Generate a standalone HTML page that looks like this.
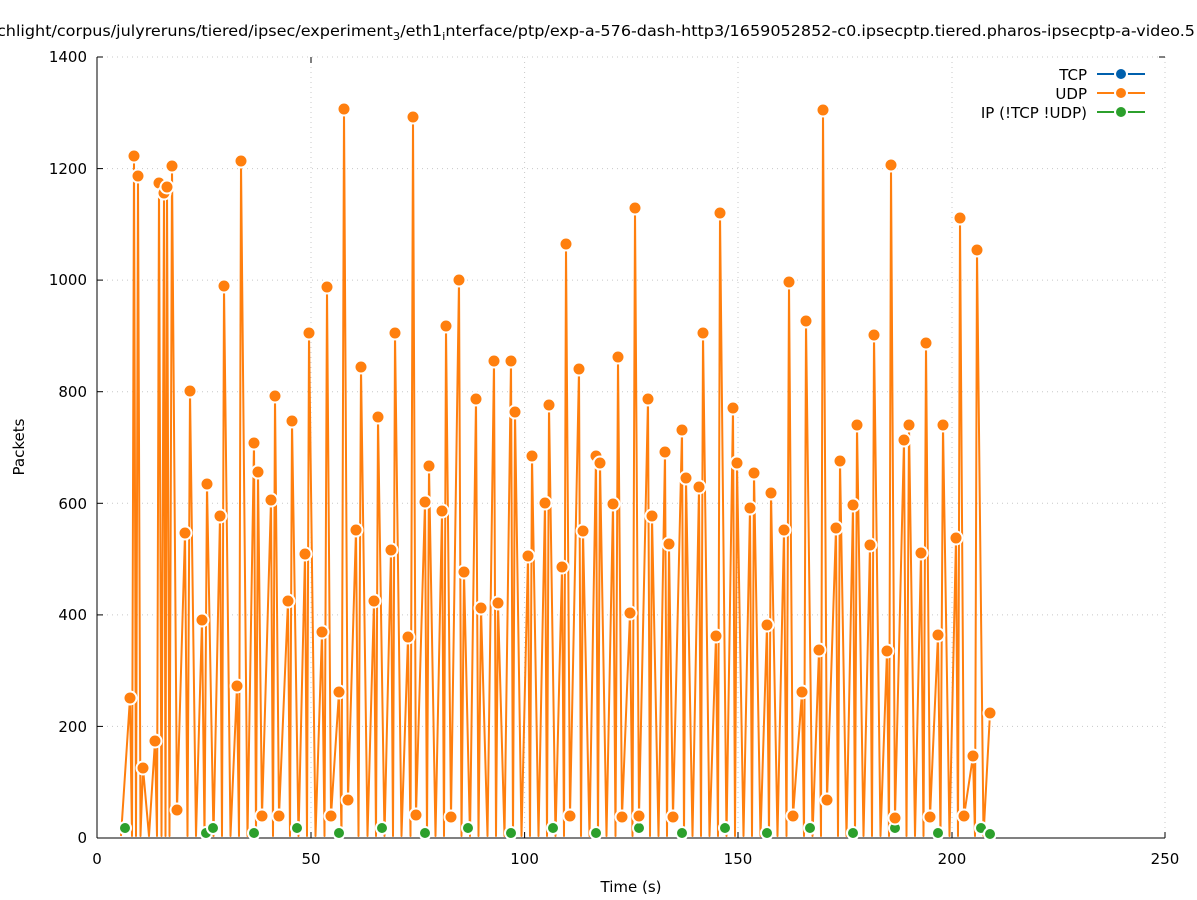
<!DOCTYPE html>
<html><head><meta charset="utf-8"><style>
html,body{margin:0;padding:0;background:#fff;}
svg{display:block;font-family:"DejaVu Sans","Liberation Sans",sans-serif;}
</style></head><body>
<svg id="s" width="1197" height="900" viewBox="0 0 1197 900" xmlns="http://www.w3.org/2000/svg">
<rect width="1197" height="900" fill="#fff"/>
<text x="-3" y="36" font-size="15" textLength="1198" lengthAdjust="spacingAndGlyphs">chlight/corpus/julyreruns/tiered/ipsec/experiment<tspan font-size="11" dy="4">3</tspan><tspan dy="-4">/eth1</tspan><tspan font-size="11" dy="4">i</tspan><tspan dy="-4">nterface/ptp/exp-a-576-dash-http3/1659052852-c0.ipsecptp.tiered.pharos-ipsecptp-a-video.5</tspan></text>
<g stroke="#c8c8c8" stroke-dasharray="1,4" stroke-width="1">
<line x1="97" x2="1165" y1="726.4" y2="726.4"/><line x1="97" x2="1165" y1="614.9" y2="614.9"/><line x1="97" x2="1165" y1="503.3" y2="503.3"/><line x1="97" x2="1165" y1="391.7" y2="391.7"/><line x1="97" x2="1165" y1="280.1" y2="280.1"/><line x1="97" x2="1165" y1="168.6" y2="168.6"/><line x1="97" x2="1165" y1="57" y2="57"/>
<line x1="311" x2="311" y1="57" y2="838"/><line x1="524.6" x2="524.6" y1="57" y2="838"/><line x1="738" x2="738" y1="57" y2="838"/><line x1="952" x2="952" y1="57" y2="838"/><line x1="1165" x2="1165" y1="57" y2="838"/>
</g>
<g stroke="#000" stroke-width="1">
<line x1="97" y1="57" x2="97" y2="838"/><line x1="97" y1="838" x2="1165" y2="838"/>
<line x1="97" y1="57" x2="103" y2="57"/><line x1="97" y1="168.6" x2="103" y2="168.6"/><line x1="97" y1="280.1" x2="103" y2="280.1"/><line x1="97" y1="391.7" x2="103" y2="391.7"/><line x1="97" y1="503.3" x2="103" y2="503.3"/><line x1="97" y1="614.9" x2="103" y2="614.9"/><line x1="97" y1="726.4" x2="103" y2="726.4"/>
<line x1="1165" y1="57" x2="1159" y2="57"/><line x1="311" y1="57" x2="311" y2="63"/><line x1="311" y1="838" x2="311" y2="832"/><line x1="524.6" y1="838" x2="524.6" y2="832"/><line x1="738" y1="838" x2="738" y2="832"/><line x1="952" y1="838" x2="952" y2="832"/><line x1="1165" y1="838" x2="1165" y2="832"/>
</g>
<g font-size="15" text-anchor="end">
<text x="87" y="843">0</text><text x="87" y="732">200</text><text x="87" y="620">400</text><text x="87" y="509">600</text><text x="87" y="397">800</text><text x="87" y="285">1000</text><text x="87" y="174">1200</text><text x="87" y="62">1400</text>
</g>
<g font-size="15" text-anchor="middle">
<text x="97" y="864">0</text><text x="311" y="864">50</text><text x="524.6" y="864">100</text><text x="738" y="864">150</text><text x="952" y="864">200</text><text x="1165" y="864">250</text>
<text x="631" y="892">Time (s)</text>
<text transform="translate(24,447) rotate(-90)">Packets</text>
</g>
<g id="plot"></g>
<g font-size="15" text-anchor="end">
<text x="1087" y="80">TCP</text><text x="1087" y="99">UDP</text><text x="1087" y="118">IP (!TCP  !UDP)</text>
<line x1="1097" x2="1145" y1="74" y2="74" stroke="#0060ad" stroke-width="2"/><circle cx="1121" cy="74" r="6" fill="#0060ad" stroke="#fff" stroke-width="2"/>
<line x1="1097" x2="1145" y1="93" y2="93" stroke="#ff7f0e" stroke-width="2"/><circle cx="1121" cy="93" r="6" fill="#ff7f0e" stroke="#fff" stroke-width="2"/>
<line x1="1097" x2="1145" y1="112" y2="112" stroke="#2ca02c" stroke-width="2"/><circle cx="1121" cy="112" r="6" fill="#2ca02c" stroke="#fff" stroke-width="2"/>
</g>
</svg>
<script>
var P=[[130,698],[134,156],[138,176],[143,768],[155,741],[159,183],[164,193],[167,187],[172,166],[177,810],[185,533],[190,391],[202,620],[207,484],[220,516],[224,286],[237,686],[241,161],[254,443],[258,472],[262,816],[271,500],[275,396],[279,816],[288,601],[292,421],[305,554],[309,333],[322,632],[327,287],[331,816],[339,692],[344,109],[348,800],[356,530],[361,367],[374,601],[378,417],[391,550],[395,333],[408,637],[413,117],[416,815],[425,502],[429,466],[442,511],[446,326],[451,817],[459,280],[464,572],[476,399],[481,608],[494,361],[498,603],[511,361],[515,412],[528,556],[532,456],[545,503],[549,405],[562,567],[566,244],[570,816],[579,369],[583,531],[596,456],[600,463],[613,504],[618,357],[622,817],[630,613],[635,208],[639,816],[648,399],[652,516],[665,452],[669,544],[673,817],[682,430],[686,478],[699,487],[703,333],[716,636],[720,213],[733,408],[737,463],[750,508],[754,473],[767,625],[771,493],[784,530],[789,282],[793,816],[802,692],[806,321],[819,650],[823,110],[827,800],[836,528],[840,461],[853,505],[857,425],[870,545],[874,335],[887,651],[891,165],[895,818],[904,440],[909,425],[921,553],[926,343],[930,817],[938,635],[943,425],[956,538],[960,218],[964,816],[973,756],[977,250],[990,713]];
var G=[125,206,213,254,297,339,382,425,468,511,553,596,639,682,725,767,810,853,895,938,981];
var pts=[[121,836]],o='';
for(var i=0;i<P.length;i++){pts.push(P[i]);if(i<P.length-1){var n=P[i+1];if(P[i][1]<800&&n[1]<800)pts.push([(P[i][0]+n[0])/2,836]);}}
o+='<polyline fill="none" stroke="#ff7f0e" stroke-width="2" stroke-linejoin="round" points="'+pts.map(function(p){return p.join(',')}).join(' ')+'"/>';
for(var j=0;j<G.length;j++)o+='<circle cx="'+G[j]+'" cy="'+(j%2?833:828)+'" r="6" fill="#2ca02c" stroke="#fff" stroke-width="2"/>';
o+='<circle cx="990" cy="834" r="6" fill="#2ca02c" stroke="#fff" stroke-width="2"/>';
for(var k=0;k<P.length;k++)o+='<circle cx="'+P[k][0]+'" cy="'+P[k][1]+'" r="6.5" fill="#ff7f0e" stroke="#fff" stroke-width="2"/>';
document.getElementById('plot').innerHTML=o;
</script>
</body></html>
